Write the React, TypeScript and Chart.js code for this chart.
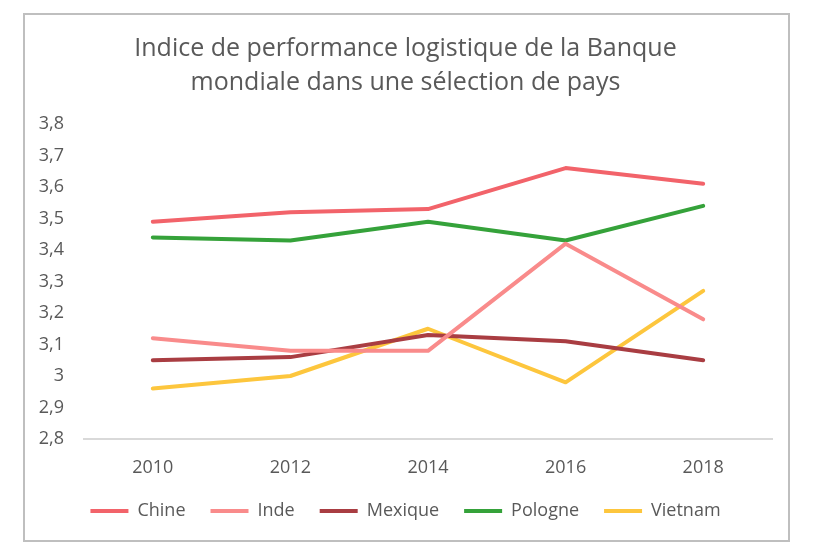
import React, { useEffect, useRef } from "react";
import { Chart, registerables } from "chart.js";

Chart.register(...registerables);

const years = ["2010", "2012", "2014", "2016", "2018"];
const chine = [3.49, 3.52, 3.53, 3.66, 3.61];
const inde = [3.12, 3.08, 3.08, 3.42, 3.18];
const mexique = [3.05, 3.06, 3.13, 3.11, 3.05];
const pologne = [3.44, 3.43, 3.49, 3.43, 3.54];
const vietnam = [2.96, 3.0, 3.15, 2.98, 3.27];
const seriesNames = ["Chine", "Inde", "Mexique", "Pologne", "Vietnam"];
const seriesColors = ["#F2636A", "#F98B8B", "#A93D42", "#35A23A", "#FDC63D"];
const yTickValues = [2.8, 2.9, 3.0, 3.1, 3.2, 3.3, 3.4, 3.5, 3.6, 3.7, 3.8];
const yTickLabels = ["2,8", "2,9", "3", "3,1", "3,2", "3,3", "3,4", "3,5", "3,6", "3,7", "3,8"];
const titleLines = [
  "Indice de performance logistique de la Banque",
  "mondiale dans une sélection de pays",
];

const TEXT = "#595959";
const FONT = "'Open Sans', 'Noto Sans', sans-serif";

export default function App() {
  const ref = useRef<HTMLCanvasElement | null>(null);
  useEffect(() => {
    if (!ref.current) return;
    const seriesData = [chine, inde, mexique, pologne, vietnam];
    const chart = new Chart(ref.current, {
      type: "line",
      data: {
        labels: years,
        datasets: seriesData.map((d, i) => ({
          label: seriesNames[i],
          data: d,
          borderColor: seriesColors[i],
          backgroundColor: seriesColors[i],
          borderWidth: 4,
          borderCapStyle: "round" as const,
          borderJoinStyle: "round" as const,
          pointRadius: 0,
          pointHoverRadius: 0,
          tension: 0,
          fill: false,
        })),
      },
      options: {
        animation: false,
        responsive: false,
        maintainAspectRatio: false,
        layout: { padding: { left: 14, right: 16, top: 0, bottom: 10 } },
        plugins: {
          tooltip: { enabled: false },
          title: {
            display: true,
            text: titleLines,
            color: TEXT,
            font: { family: FONT, size: 25, weight: "normal", lineHeight: 1.36 },
            padding: { top: 17, bottom: 24 },
          },
          legend: {
            position: "bottom",
            labels: {
              usePointStyle: true,
              pointStyle: "line",
              pointStyleWidth: 38,
              boxHeight: 18,
              padding: 25,
              color: TEXT,
              font: { family: FONT, size: 18 },
            },
          },
        },
        scales: {
          x: {
            offset: true,
            grid: { display: false, drawTicks: false },
            border: { display: true, color: "#D9D9D9", width: 2 },
            ticks: {
              color: TEXT,
              font: { family: FONT, size: 18 },
              padding: 18,
              maxRotation: 0,
            },
            afterFit: (scale: any) => {
              scale.height = 38;
            },
          },
          y: {
            min: 2.8,
            max: 3.8,
            grid: { display: false, drawTicks: false },
            border: { display: false },
            afterBuildTicks: (axis: any) => {
              axis.ticks = yTickValues.map((v) => ({ value: v }));
            },
            afterFit: (scale: any) => {
              scale.width = 45;
            },
            ticks: {
              color: TEXT,
              font: { family: FONT, size: 18 },
              padding: 20,
              callback: (value: any) => {
                const idx = yTickValues.findIndex((v) => Math.abs(v - Number(value)) < 1e-6);
                return idx >= 0 ? yTickLabels[idx] : "";
              },
            },
          },
        },
      },
    });
    return () => chart.destroy();
  }, []);

  return (
    <div
      style={{
        position: "absolute",
        left: 23,
        top: 13,
        width: 767,
        height: 529,
        border: "2px solid #BFBFBF",
        boxSizing: "border-box",
        background: "#fff",
      }}
    >
      <canvas ref={ref} width={763} height={525} style={{ display: "block", width: 763, height: 525 }} />
    </div>
  );
}
